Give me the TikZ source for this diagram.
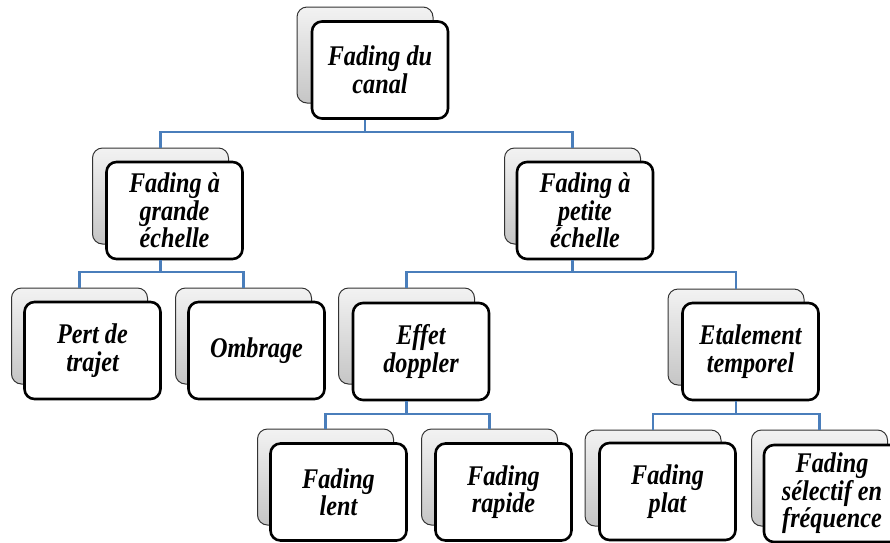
\documentclass[tikz,border=0pt]{standalone}
\usepackage{fontspec}
\newfontfamily\cardfont[FakeStretch=0.85]{Liberation Serif}
\definecolor{linkblue}{HTML}{4A7EBB}
\begin{document}
\begin{tikzpicture}[x=1pt,y=-1pt,
  backcard/.style={draw=gray!40!black, line width=1pt, rounded corners=10pt,
    top color=gray!10, bottom color=gray!45,
    minimum width=136pt, minimum height=96pt, inner sep=0pt},
  card/.style={draw=black, line width=2.6pt, rounded corners=10pt, fill=white,
    minimum width=136pt, minimum height=97pt, inner sep=0pt, align=center,
    font=\cardfont\bfseries\itshape\fontsize{28.5}{27.5}\selectfont},
  link/.style={draw=linkblue, line width=2.8pt}]
\clip (0,0) rectangle (890,542);

% rear cards
\node[backcard] (topb)  at (365,55)    {};
\node[backcard] (gsb)   at (160.5,196) {};
\node[backcard] (psb)   at (572.5,196) {};
\node[backcard] (pertb) at (79.5,336)  {};
\node[backcard] (ombb)  at (243.5,336) {};
\node[backcard] (effb)  at (406.5,336) {};
\node[backcard] (etalb) at (736,337)   {};
\node[backcard] (lentb) at (325.5,477) {};
\node[backcard] (rapb)  at (489.5,477) {};
\node[backcard] (platb) at (653,478)   {};
\node[backcard] (selb)  at (819.5,478) {};

% front cards
\node[card] (top)  at (380,70)      {Fading du\\canal};
\node[card] (gs)   at (174.5,210.5) {Fading à\\grande\\échelle};
\node[card] (ps)   at (585,210.5)   {Fading à\\petite\\échelle};
\node[card] (pert) at (92.5,350.5)  {Pert de\\trajet};
\node[card] (omb)  at (256.5,350.5) {Ombrage};
\node[card] (eff)  at (421,351.5)   {Effet\\doppler};
\node[card] (etal) at (750.5,351.5) {Etalement\\temporel};
\node[card] (lent) at (338.5,492)   {Fading\\lent};
\node[card] (rap)  at (503.5,492)   {Fading\\rapide};
\node[card] (plat) at (667.5,491.5) {Fading\\plat};
\node[card] (sel)  at (832,493.5)   {Fading\\sélectif en\\fréquence};

% tree connectors
\coordinate (bus1) at (0,132);
\coordinate (bus2) at (0,272);
\coordinate (bus3) at (0,414);

\draw[link] (topb.south |- top.south) -- (topb.south |- bus1) -| (gsb.north);
\draw[link] (topb.south |- bus1) -| (psb.north);

\draw[link] (gsb.south |- gs.south) -- (gsb.south |- bus2) -| (pertb.north);
\draw[link] (gsb.south |- bus2) -| (ombb.north);

\draw[link] (psb.south |- ps.south) -- (psb.south |- bus2) -| (effb.north);
\draw[link] (psb.south |- bus2) -| (etalb.north);

\draw[link] (effb.south |- eff.south) -- (effb.south |- bus3) -| (lentb.north);
\draw[link] (effb.south |- bus3) -| (rapb.north);

\draw[link] (etalb.south |- etal.south) -- (etalb.south |- bus3) -| (platb.north);
\draw[link] (etalb.south |- bus3) -| (selb.north);
\end{tikzpicture}
\end{document}
